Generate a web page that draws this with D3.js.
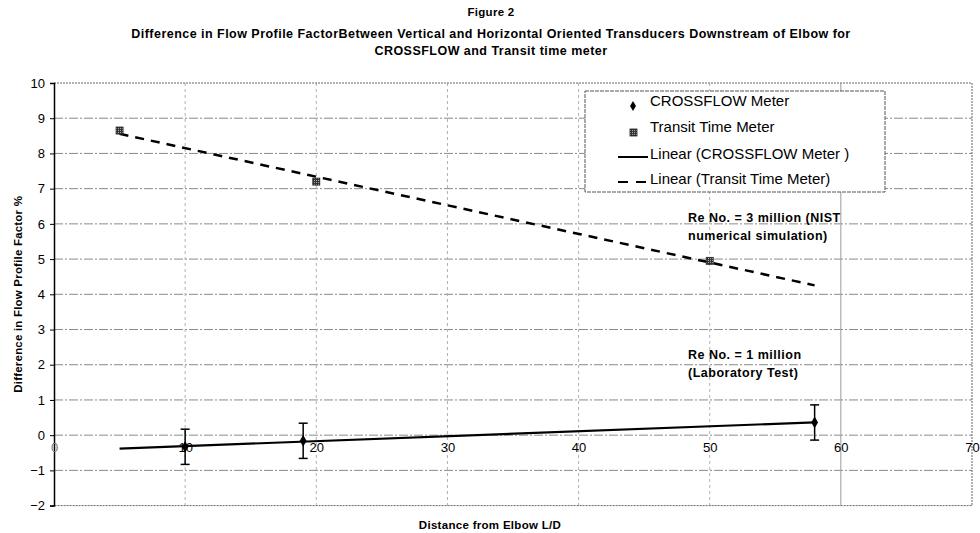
<!DOCTYPE html>
<html>
<head>
<meta charset="utf-8">
<script src="https://cdn.jsdelivr.net/npm/d3@7"></script>
<style>
  body { margin: 0; background: #fff; }
  svg { display: block; font-family: "Liberation Sans", Arial, sans-serif; }
</style>
</head>
<body>
<svg id="chart" width="980" height="533"></svg>
<script>
// Data
const crossflowX = [10, 19, 58];
const crossflowY = [-0.33, -0.16, 0.36];
const crossflowErr = [0.5, 0.5, 0.5];
const transitX = [5, 20, 50];
const transitY = [8.65, 7.2, 4.95];
const trendRange = [5, 58];
const xTicks = [0, 10, 20, 30, 40, 50, 60, 70];
const yTicks = [-2, -1, 0, 1, 2, 3, 4, 5, 6, 7, 8, 9, 10];
const legendItems = ['CROSSFLOW Meter', 'Transit Time Meter', 'Linear (CROSSFLOW Meter )', 'Linear (Transit Time Meter)'];

const svg = d3.select('#chart');
const margin = { top: 83, right: 8, bottom: 27.4, left: 54 };
const width = 980, height = 533;

const x = d3.scaleLinear().domain([0, 70]).range([margin.left, width - margin.right]);
const y = d3.scaleLinear().domain([-2, 10]).range([height - margin.bottom, margin.top]);

// Least squares trendline
function fit(xs, ys) {
  const mx = d3.mean(xs), my = d3.mean(ys);
  let sxy = 0, sxx = 0;
  xs.forEach((v, i) => { sxy += (v - mx) * (ys[i] - my); sxx += (v - mx) * (v - mx); });
  const slope = sxy / sxx;
  return v => my + slope * (v - mx);
}

// Titles
const titles = [
  { t: 'Figure 2', y: 16, s: 11.5 },
  { t: 'Difference in Flow Profile FactorBetween Vertical and Horizontal Oriented Transducers Downstream of Elbow for', y: 38, s: 12.5 },
  { t: 'CROSSFLOW and Transit time meter', y: 55, s: 12.5 }
];
svg.selectAll('.title').data(titles).enter().append('text')
  .attr('x', 491).attr('y', d => d.y)
  .attr('text-anchor', 'middle')
  .style('font-size', d => d.s + 'px').style('font-weight', 'bold')
  .style('letter-spacing', d => d.s > 12 ? '0.47px' : '0.3px')
  .text(d => d.t);

// Grid lines
svg.append('g').selectAll('line').data(yTicks.filter(d => d !== -2 && d !== 10)).enter().append('line')
  .attr('x1', x(0)).attr('x2', x(70))
  .attr('y1', d => y(d)).attr('y2', d => y(d))
  .attr('stroke', '#8a8a8a').attr('stroke-width', 1)
  .attr('stroke-dasharray', '9,2,2,2');

svg.append('g').selectAll('line').data(xTicks.filter(d => d !== 0 && d !== 70)).enter().append('line')
  .attr('x1', d => x(d)).attr('x2', d => x(d))
  .attr('y1', y(10)).attr('y2', y(-2))
  .attr('stroke', d => d === 60 ? '#9a9a9a' : '#b0b0b0').attr('stroke-width', 1)
  .attr('stroke-dasharray', d => d === 60 ? null : '3,3');

// Plot border (top, right, bottom)
svg.append('path')
  .attr('d', `M${x(0)},${y(10)}H${x(70)}V${y(-2)}H${x(0)}`)
  .attr('fill', 'none').attr('stroke', '#666').attr('stroke-width', 1)
  .attr('stroke-dasharray', '2,1');

// Y axis
const yAxis = svg.append('g')
  .attr('transform', `translate(${margin.left},0)`)
  .call(d3.axisLeft(y).tickValues(yTicks).tickSize(4).tickFormat(d3.format('d')));
yAxis.select('.domain').attr('stroke', '#000').attr('stroke-width', 1.5);
yAxis.selectAll('text').style('font-size', '13px').attr('x', -9);

// X axis labels along y = 0
const xAxis = svg.append('g')
  .attr('transform', `translate(0,${y(0)})`)
  .call(d3.axisBottom(x).tickValues(xTicks).tickSize(0));
xAxis.select('.domain').remove();
xAxis.selectAll('text').style('font-size', '13px').attr('dy', '1.05em')
  .attr('fill', d => d === 0 ? '#777' : '#000');

// Axis titles
svg.append('text')
  .attr('transform', `translate(22,${(y(10) + y(-2)) / 2}) rotate(-90)`)
  .attr('text-anchor', 'middle')
  .style('font-size', '11.5px').style('font-weight', 'bold')
  .style('letter-spacing', '0.2px')
  .text('Difference in Flow Profile Factor %');

svg.append('text')
  .attr('x', 490).attr('y', 529)
  .attr('text-anchor', 'middle')
  .style('font-size', '11.5px').style('font-weight', 'bold')
  .style('letter-spacing', '0.3px')
  .text('Distance from Elbow L/D');

// Trendlines
const line = d3.line().x(d => x(d[0])).y(d => y(d[1]));
const cfFit = fit(crossflowX, crossflowY);
const ttFit = fit(transitX, transitY);
svg.append('path')
  .attr('d', line(trendRange.map(v => [v, cfFit(v)])))
  .attr('stroke', '#000').attr('stroke-width', 2.2).attr('fill', 'none');
svg.append('path')
  .attr('d', line(trendRange.map(v => [v, ttFit(v)])))
  .attr('stroke', '#000').attr('stroke-width', 2.5).attr('fill', 'none')
  .attr('stroke-dasharray', '9,7');

// Error bars
const crossflow = crossflowX.map((v, i) => ({ x: v, y: crossflowY[i], e: crossflowErr[i] }));
const eb = svg.append('g').selectAll('g').data(crossflow).enter().append('g');
eb.append('line')
  .attr('x1', d => x(d.x)).attr('x2', d => x(d.x))
  .attr('y1', d => y(d.y + d.e)).attr('y2', d => y(d.y - d.e))
  .attr('stroke', '#000').attr('stroke-width', 1.5);
eb.selectAll('.cap').data(d => [[d.x, d.y + d.e], [d.x, d.y - d.e]]).enter().append('line')
  .attr('x1', d => x(d[0]) - 4.5).attr('x2', d => x(d[0]) + 4.5)
  .attr('y1', d => y(d[1])).attr('y2', d => y(d[1]))
  .attr('stroke', '#000').attr('stroke-width', 1.5);

// Markers
const diamond = d3.symbol().type(d3.symbolDiamond).size(40);
svg.append('g').selectAll('path').data(crossflow).enter().append('path')
  .attr('d', diamond)
  .attr('transform', d => `translate(${x(d.x)},${y(d.y)})`)
  .attr('fill', '#000');

const defs = svg.append('defs');
const pat = defs.append('pattern').attr('id', 'hatch')
  .attr('width', 2).attr('height', 2).attr('patternUnits', 'userSpaceOnUse');
pat.append('rect').attr('width', 2).attr('height', 2).attr('fill', '#333');
pat.append('rect').attr('width', 1).attr('height', 1).attr('fill', '#aaa');

const transit = transitX.map((v, i) => ({ x: v, y: transitY[i] }));
svg.append('g').selectAll('rect').data(transit).enter().append('rect')
  .attr('x', d => x(d.x) - 3.5).attr('y', d => y(d.y) - 3.5)
  .attr('width', 7).attr('height', 7)
  .attr('fill', 'url(#hatch)').attr('stroke', '#222').attr('stroke-width', 0.8);

// Legend
const lg = svg.append('g');
lg.append('rect')
  .attr('x', 585).attr('y', 91).attr('width', 300).attr('height', 101)
  .attr('fill', '#fff').attr('stroke', '#555').attr('stroke-width', 1)
  .attr('stroke-dasharray', '4,1');
const rowY = [101, 127, 154, 179];
lg.selectAll('text').data(legendItems).enter().append('text')
  .attr('x', 650).attr('y', (d, i) => rowY[i])
  .attr('dy', '0.35em')
  .style('font-size', '15px')
  .text(d => d);
lg.append('path').attr('d', d3.symbol().type(d3.symbolDiamond).size(30))
  .attr('transform', `translate(633,${rowY[0] + 5})`).attr('fill', '#000');
lg.append('rect')
  .attr('x', 630).attr('y', rowY[1] + 2).attr('width', 7).attr('height', 7)
  .attr('fill', 'url(#hatch)').attr('stroke', '#222').attr('stroke-width', 0.8);
lg.append('line').attr('x1', 618).attr('x2', 648)
  .attr('y1', rowY[2] + 3).attr('y2', rowY[2] + 3)
  .attr('stroke', '#000').attr('stroke-width', 2);
lg.append('line').attr('x1', 618).attr('x2', 648)
  .attr('y1', rowY[3] + 3).attr('y2', rowY[3] + 3)
  .attr('stroke', '#000').attr('stroke-width', 2).attr('stroke-dasharray', '10,8');

// Annotations
const notes = [
  { t: 'Re No. = 3 million (NIST', x: 688, y: 222 },
  { t: 'numerical simulation)', x: 688, y: 240 },
  { t: 'Re No. = 1 million', x: 688, y: 359 },
  { t: '(Laboratory Test)', x: 688, y: 377 }
];
svg.selectAll('.note').data(notes).enter().append('text')
  .attr('x', d => d.x).attr('y', d => d.y)
  .style('font-size', '12.5px').style('font-weight', 'bold')
  .style('letter-spacing', '0.5px')
  .text(d => d.t);
</script>
</body>
</html>
